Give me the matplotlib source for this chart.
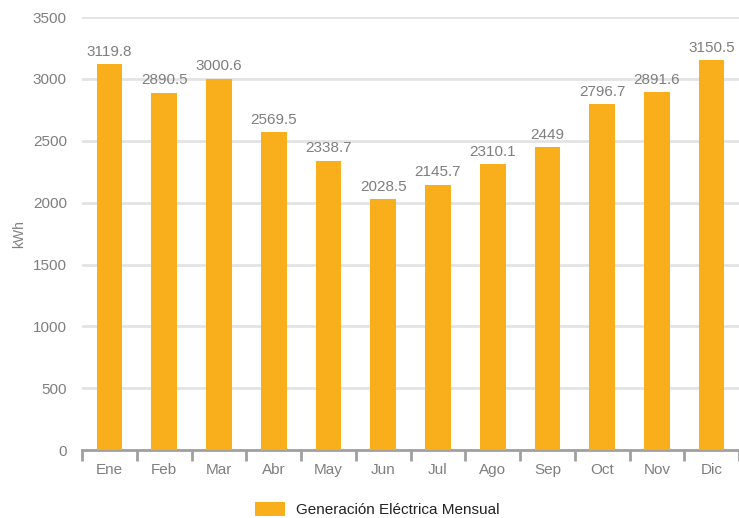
import matplotlib.pyplot as plt
import numpy as np

plt.rcParams['font.family'] = ['Liberation Sans', 'DejaVu Sans']

meses = ['Ene', 'Feb', 'Mar', 'Abr', 'May', 'Jun', 'Jul', 'Ago', 'Sep', 'Oct', 'Nov', 'Dic']
generacion = [3119.8, 2890.5, 3000.6, 2569.5, 2338.7, 2028.5, 2145.7, 2310.1, 2449, 2796.7, 2891.6, 3150.5]
etiquetas = ['3119.8', '2890.5', '3000.6', '2569.5', '2338.7', '2028.5', '2145.7', '2310.1', '2449', '2796.7', '2891.6', '3150.5']

naranja = '#F9AF1B'
gris = '#7F7F7F'

fig = plt.figure(figsize=(7.39, 5.18), dpi=100)
ax = fig.add_axes([0.111, 0.131, 0.889, 0.836])

x = np.arange(len(meses))
barras = ax.bar(x, generacion, width=0.47, color=naranja, zorder=3,
                label='Generación Eléctrica Mensual')

# etiquetas de valor encima de cada barra
for xi, v, t in zip(x, generacion, etiquetas):
    ax.text(xi, v + 45, t, ha='center', va='bottom', fontsize=11, color=gris)

ax.set_xlim(-0.5, len(meses) - 0.5)
ax.set_ylim(0, 3500)
ax.set_yticks(np.arange(0, 3501, 500))
ax.yaxis.grid(True, color='#E3E3E3', linewidth=2, zorder=0)
ax.set_axisbelow(True)

for s in ['top', 'right', 'left']:
    ax.spines[s].set_visible(False)
ax.spines['bottom'].set_color('#A0A0A0')
ax.spines['bottom'].set_linewidth(2)

ax.tick_params(axis='y', length=0, labelsize=11, labelcolor=gris, pad=11)
ax.set_xticks(x)
ax.set_xticklabels(meses)
ax.tick_params(axis='x', length=0, labelsize=11, labelcolor=gris, pad=9)
ax.set_xticks(np.arange(-0.5, len(meses)), minor=True)
ax.tick_params(axis='x', which='minor', length=8, width=2, color='#A0A0A0')

ax.set_ylabel('kWh', fontsize=10, color=gris)
ax.yaxis.set_label_coords(-0.085, 0.5)

fig.legend(handles=[barras], labels=['Generación Eléctrica Mensual'], loc='lower center',
           bbox_to_anchor=(0.51, -0.025), frameon=False, fontsize=11,
           handlelength=2.0, handleheight=1.0, handletextpad=0.7, labelcolor='#222222')

fig.savefig('out.png', dpi=100)
